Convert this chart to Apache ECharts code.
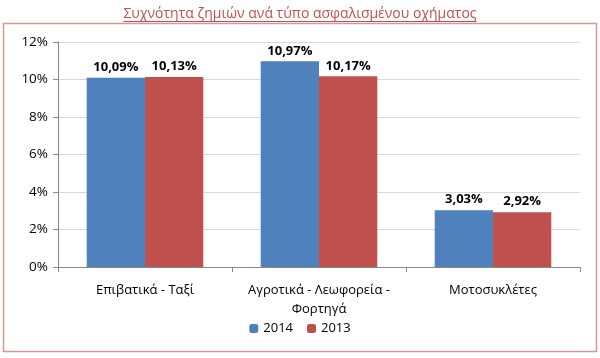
<!DOCTYPE html>
<html><head><meta charset="utf-8">
<script src="https://cdn.jsdelivr.net/npm/echarts@6/dist/echarts.min.js"></script>
<style>html,body{margin:0;padding:0;background:#fff}#c{width:600px;height:358px}</style>
</head><body><div id="c"></div>
<script>
const categories = ['Επιβατικά - Ταξί', 'Αγροτικά - Λεωφορεία -\nΦορτηγά', 'Μοτοσυκλέτες'];
const s2014 = [10.09, 10.97, 3.03];
const s2013 = [10.13, 10.17, 2.92];
const yTicks = [0, 2, 4, 6, 8, 10, 12];

const titleText = 'Συχνότητα ζημιών ανά τύπο ασφαλισμένου οχήματος';
const titleFont = '14px "Open Sans", sans-serif';
const cv = document.createElement('canvas').getContext('2d');
cv.font = titleFont;
const tw = cv.measureText(titleText).width;

const chart = echarts.init(document.getElementById('c'), null, {renderer: 'canvas'});
const fmt = v => v.toFixed(2).replace('.', ',') + '%';
const labelStyle = {show: true, position: 'top', fontWeight: 'bold', fontSize: 13, color: '#000', fontFamily: 'Open Sans, sans-serif', distance: 4, formatter: p => fmt(p.value)};
chart.setOption({
  animation: false,
  title: {text: titleText, left: 'center', top: 2,
    textStyle: {color: '#C0504D', fontSize: 14, fontWeight: 'normal', fontFamily: 'Open Sans, sans-serif'}},
  graphic: [
    {type: 'rect', shape: {x: 3.5, y: 23.5, width: 593, height: 328}, style: {fill: 'none', stroke: '#D99694', lineWidth: 1.5}, z: -1},
    {type: 'line', shape: {x1: 300 - tw / 2, y1: 21.5, x2: 300 + tw / 2, y2: 21.5}, style: {stroke: '#C0504D', lineWidth: 1}}
  ],
  grid: {left: 58, right: 20, top: 42, bottom: 91},
  legend: {data: ['2014', '2013'], bottom: 18, left: 'center', itemWidth: 9, itemHeight: 9, itemGap: 14,
    textStyle: {fontSize: 13, color: '#000', fontFamily: 'Open Sans, sans-serif'}},
  xAxis: {type: 'category', data: categories,
    axisLine: {lineStyle: {color: '#888'}}, axisTick: {show: true, length: 5, lineStyle: {color: '#888'}},
    axisLabel: {color: '#000', fontSize: 13, margin: 14, lineHeight: 19, fontFamily: 'Open Sans, sans-serif', interval: 0}},
  yAxis: {type: 'value', min: 0, max: 12, interval: 2,
    axisLine: {show: true, lineStyle: {color: '#888'}}, axisTick: {show: true, length: 5, lineStyle: {color: '#888'}},
    splitLine: {lineStyle: {color: '#D9D9D9'}},
    axisLabel: {color: '#000', fontSize: 13.5, margin: 10, fontFamily: 'Open Sans, sans-serif', formatter: v => yTicks.includes(v) ? v + '%' : ''}},
  series: [
    {name: '2014', type: 'bar', data: s2014, itemStyle: {color: '#4F81BD'}, barGap: '0%', barCategoryGap: '33%', label: labelStyle},
    {name: '2013', type: 'bar', data: s2013, itemStyle: {color: '#C0504D'}, label: labelStyle}
  ]
});
</script></body></html>
